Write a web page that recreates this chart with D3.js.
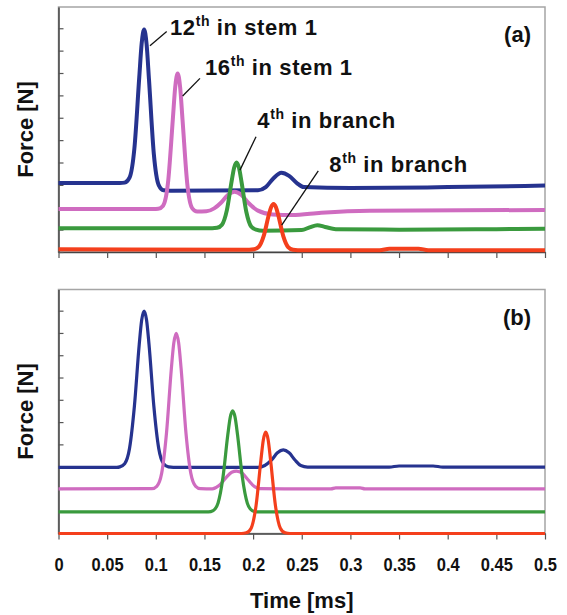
<!DOCTYPE html>
<html>
<head>
<meta charset="utf-8">
<script src="https://cdn.jsdelivr.net/npm/d3@7"></script>
<style>
  body { margin: 0; background: #fff; }
  text { font-family: "Liberation Sans", Arial, sans-serif; font-weight: bold; fill: #111; }
</style>
</head>
<body>
<svg id="chart"></svg>
<script>
// x axis
var xTicks = [0, 0.05, 0.1, 0.15, 0.2, 0.25, 0.3, 0.35, 0.4, 0.45, 0.5];
var xTickLabels = ['0', '0.05', '0.1', '0.15', '0.2', '0.25', '0.3', '0.35', '0.4', '0.45', '0.5'];
var yTicks = [0, 1, 2, 3, 4, 5, 6, 7, 8, 9, 10];

// panel (a) measured traces [time ms, force]
var blueA = [[0,3.08],[0.063,3.08],[0.068,3.1],[0.073,3.32],[0.078,4.63],[0.083,7.81],[0.0855,9.33],[0.088,9.94],[0.0905,9.3],[0.093,7.71],[0.098,4.37],[0.103,2.99],[0.108,2.76],[0.115,2.74],[0.205,2.76],[0.213,2.9],[0.221,3.3],[0.229,3.54],[0.237,3.4],[0.245,3.08],[0.252,2.9],[0.3,2.86],[0.4,2.9],[0.5,2.97]];
var magentaA = [[0,1.92],[0.0975,1.92],[0.1025,1.93],[0.1075,2.07],[0.1125,3.08],[0.1175,5.93],[0.12,7.39],[0.1225,7.98],[0.125,7.37],[0.1275,5.89],[0.1325,2.98],[0.1375,1.95],[0.1425,1.81],[0.152,1.82],[0.16,1.95],[0.167,2.2],[0.174,2.55],[0.181,2.69],[0.188,2.55],[0.195,2.2],[0.205,1.85],[0.22,1.68],[0.24,1.65],[0.27,1.75],[0.32,1.84],[0.5,1.88]];
var greenA = [[0,1.06],[0.158,1.06],[0.163,1.08],[0.168,1.22],[0.173,1.86],[0.178,3.18],[0.1805,3.77],[0.183,4.0],[0.1855,3.76],[0.188,3.16],[0.193,1.8],[0.198,1.14],[0.203,1.0],[0.21,0.95],[0.25,0.98],[0.258,1.1],[0.266,1.2],[0.274,1.12],[0.285,1.02],[0.35,1.0],[0.45,1.02],[0.5,1.04]];
var redA = [[0,0.12],[0.196,0.1],[0.201,0.12],[0.206,0.24],[0.211,0.73],[0.216,1.63],[0.2185,2.0],[0.221,2.15],[0.2235,2.0],[0.226,1.62],[0.231,0.71],[0.236,0.22],[0.241,0.1],[0.246,0.08],[0.33,0.08],[0.34,0.14],[0.37,0.15],[0.38,0.08],[0.5,0.08]];

// panel (b) simulated traces
var blueB = [[0,2.97],[0.06,2.97],[0.063,2.99],[0.068,3.13],[0.073,3.82],[0.078,5.71],[0.083,8.5],[0.0855,9.58],[0.088,9.98],[0.0905,9.58],[0.093,8.5],[0.098,5.71],[0.103,3.82],[0.108,3.13],[0.113,2.99],[0.118,2.97],[0.205,2.97],[0.212,3.05],[0.219,3.3],[0.225,3.62],[0.231,3.75],[0.237,3.62],[0.243,3.3],[0.249,3.05],[0.256,2.98],[0.34,2.98],[0.35,3.03],[0.385,3.03],[0.395,2.98],[0.5,2.98]];
var magentaB = [[0,2.0],[0.096,2.01],[0.101,2.12],[0.106,2.7],[0.111,4.51],[0.116,7.41],[0.1185,8.55],[0.121,8.98],[0.1235,8.55],[0.126,7.41],[0.131,4.51],[0.136,2.7],[0.141,2.12],[0.146,2.01],[0.158,2.0],[0.165,2.15],[0.172,2.5],[0.178,2.75],[0.183,2.8],[0.189,2.7],[0.195,2.4],[0.201,2.12],[0.207,2.01],[0.28,2.0],[0.285,2.05],[0.31,2.05],[0.315,2.0],[0.5,2.0]];
var greenB = [[0,0.97],[0.154,0.97],[0.159,1.03],[0.164,1.37],[0.169,2.51],[0.174,4.43],[0.1765,5.21],[0.179,5.5],[0.1815,5.21],[0.184,4.43],[0.189,2.51],[0.194,1.37],[0.199,1.03],[0.204,0.97],[0.5,0.97]];
var redB = [[0,0],[0.188,0],[0.193,0.03],[0.198,0.24],[0.203,1.24],[0.208,3.28],[0.2105,4.2],[0.213,4.55],[0.2155,4.2],[0.218,3.28],[0.223,1.24],[0.228,0.24],[0.233,0.03],[0.238,0],[0.5,0]];

var colors = ['#26338f', '#cf6cc0', '#3a9a3e', '#f43f1c'];

// labels in panel (a)
var annNum = ['12', '16', '4', '8'];
var annRest = [' in stem 1', ' in stem 1', ' in branch', ' in branch'];
var annText = [[0.1146, 9.69], [0.1506, 7.9], [0.2043, 5.52], [0.2783, 3.59]];
var annLine = [[0.1112, 9.85, 0.094, 9.22], [0.1454, 7.76, 0.1276, 6.97], [0.203, 5.15, 0.1865, 3.66], [0.267, 3.63, 0.2294, 1.2]];

var width = 567, height = 615,
	left = 58.5, right = 545;

var svg = d3.select('#chart')
	.attr('width', width)
	.attr('height', height);

var x = d3.scaleLinear().domain([0, 0.5]).range([left, right]);

function panel(top, bottom, series, lineWidth, tag, showLabels) {
	var y = d3.scaleLinear().domain([0, 10.95]).range([bottom, top]);
	var g = svg.append('g');

	g.append('rect')
		.attr('x', left).attr('y', top)
		.attr('width', right - left).attr('height', bottom - top)
		.style('fill', 'none').style('stroke', '#a5a5a5').style('stroke-width', 1.5);

	var line = d3.line()
		.x(function (d) { return x(d[0]); })
		.y(function (d) { return y(d[1]); })
		.curve(d3.curveMonotoneX);

	var xAxis = d3.axisBottom(x).tickValues(xTicks).tickSize(6).tickSizeOuter(0)
		.tickFormat(function (d, i) { return showLabels ? xTickLabels[i] : ''; });
	var gx = g.append('g').attr('transform', 'translate(0,' + bottom + ')').call(xAxis);
	gx.select('.domain').style('stroke', '#444').style('stroke-width', 1.5);
	gx.selectAll('.tick line').style('stroke', '#555').style('stroke-width', 1.2);
	gx.selectAll('.tick text')
		.attr('y', 0)
		.attr('dy', 0)
		.attr('transform', 'translate(0,37) scale(1,1.15)')
		.style('font-size', '16.5px')
		.style('font-family', '"Liberation Sans", Arial, sans-serif')
		.style('font-weight', 'bold')
		.style('fill', '#111');

	var yAxis = d3.axisLeft(y).tickValues(yTicks).tickSize(-5).tickSizeOuter(0).tickFormat('');
	var gy = g.append('g').attr('transform', 'translate(' + left + ',0)').call(yAxis);
	gy.select('.domain').style('stroke', '#444').style('stroke-width', 1.5);
	gy.selectAll('.tick line').style('stroke', '#555').style('stroke-width', 1.2);

	g.selectAll('path.trace').data(series)
		.enter().append('path')
		.attr('class', 'trace')
		.attr('d', line)
		.style('fill', 'none')
		.style('stroke', function (d, i) { return colors[i]; })
		.style('stroke-width', lineWidth)
		.style('stroke-linejoin', 'round');

	g.append('text')
		.attr('x', right - 14).attr('y', top + 35)
		.attr('text-anchor', 'end')
		.style('font-size', '22px')
		.text(tag);

	g.append('text')
		.attr('transform', 'translate(33,' + ((top + bottom) / 2) + ') rotate(-90)')
		.attr('text-anchor', 'middle')
		.style('font-size', '22px')
		.text('Force [N]');

	return { g: g, y: y };
}

var pa = panel(7, 252, [blueA, magentaA, greenA, redA], 4, '(a)', false);
var pb = panel(289.5, 533.5, [blueB, magentaB, greenB, redB], 3.2, '(b)', true);

// annotations for panel (a)
pa.g.selectAll('line.lead').data(annLine)
	.enter().append('line')
	.attr('class', 'lead')
	.attr('x1', function (d) { return x(d[0]); })
	.attr('y1', function (d) { return pa.y(d[1]); })
	.attr('x2', function (d) { return x(d[2]); })
	.attr('y2', function (d) { return pa.y(d[3]); })
	.style('stroke', '#111')
	.style('stroke-width', 1.3);

var ann = pa.g.selectAll('text.ann').data(annText)
	.enter().append('text')
	.attr('class', 'ann')
	.attr('x', function (d) { return x(d[0]); })
	.attr('y', function (d) { return pa.y(d[1]); })
	.style('font-size', '22px')
	.style('letter-spacing', '0.6px');
ann.append('tspan').text(function (d, i) { return annNum[i]; });
ann.append('tspan').attr('dy', -9).style('font-size', '14px').text('th');
ann.append('tspan').attr('dy', 9).text(function (d, i) { return annRest[i]; });

svg.append('text')
	.attr('x', (left + right) / 2).attr('y', 608)
	.attr('text-anchor', 'middle')
	.style('font-size', '22px')
	.text('Time [ms]');
</script>
</body>
</html>
